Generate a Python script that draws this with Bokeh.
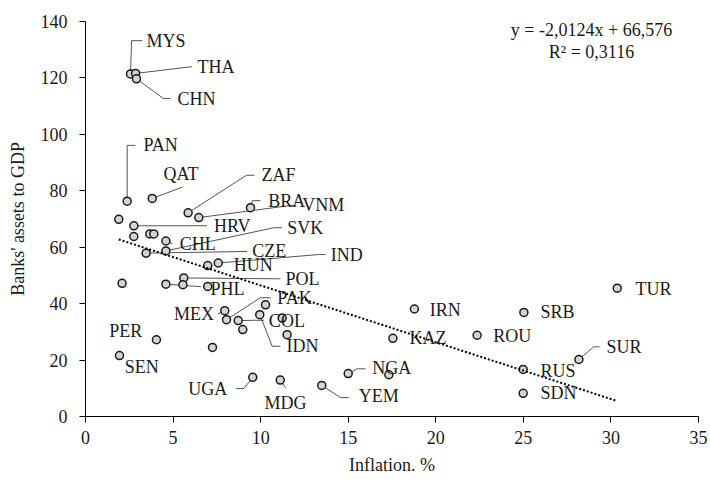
from bokeh.plotting import figure
from bokeh.models import Range1d, FixedTicker, ColumnDataSource, Label
from bokeh.core.properties import value
from bokeh.embed import file_html
from bokeh.resources import INLINE

# ---------------- data ----------------
countries = ["MYS", "THA", "CHN", "PAN", "QAT", "ZAF", "VNM", "BRA", "", "HRV",
             "", "", "", "CHL", "SVK", "CZE", "HUN", "IND", "POL", "",
             "PHL", "", "", "MEX", "PAK", "COL", "", "IDN", "", "",
             "", "PER", "SEN", "", "UGA", "MDG", "YEM", "NGA", "", "KAZ",
             "IRN", "ROU", "SRB", "RUS", "SDN", "SUR", "TUR"]
inflation = [2.57, 2.86, 2.91, 2.38, 3.81, 5.86, 6.47, 9.42, 1.90, 2.76,
             2.76, 3.67, 3.90, 4.59, 4.59, 3.46, 6.98, 7.58, 5.61, 2.09,
             4.59, 5.56, 6.98, 7.95, 8.05, 8.72, 8.98, 9.95, 10.28, 11.23,
             11.51, 4.05, 1.94, 7.25, 9.55, 11.12, 13.49, 15.0, 17.32, 17.55,
             18.78, 22.36, 25.03, 24.99, 24.99, 28.17, 30.36]
assets = [121.4, 121.6, 119.7, 76.3, 77.3, 72.2, 70.5, 74.0, 69.9, 67.6,
          63.8, 64.7, 64.7, 62.2, 58.7, 57.9, 53.5, 54.4, 49.1, 47.2,
          46.9, 46.7, 46.1, 37.5, 34.3, 34.0, 30.8, 36.1, 39.6, 34.9,
          29.0, 27.2, 21.6, 24.5, 13.9, 12.9, 11.0, 15.2, 14.8, 27.7,
          38.1, 28.8, 36.9, 16.7, 8.2, 20.2, 45.5]

x_ticks = [0, 5, 10, 15, 20, 25, 30, 35]
y_ticks = [0, 20, 40, 60, 80, 100, 120, 140]

trend_slope = -2.0124
trend_intercept = 66.576
r_squared = 0.3116
equation_text = "y = -2,0124x + 66,576"
r2_text = "R\u00b2 = 0,3116"

x_title = "Inflation. %"
y_title = "Banks' assets to GDP"

# ---------------- label layout (data coordinates) ----------------
# code: (text x, text y, align, leader waypoints after the point)
label_layout = {
    "MYS": (3.48, 133.2, "left", [(2.63, 133.2), (3.25, 133.2)]),
    "THA": (6.39, 124.0, "left", [(6.09, 124.0)]),
    "CHN": (5.25, 112.7, "left", [(4.45, 112.7), (4.85, 112.7)]),
    "PAN": (3.31, 96.1, "left", [(2.38, 96.1), (2.85, 96.1)]),
    "QAT": (4.45, 86.0, "left", [(5.54, 81.3)]),
    "ZAF": (10.05, 85.5, "left", [(9.19, 85.5), (9.65, 85.5)]),
    "BRA": (10.43, 76.5, "left", [(9.52, 76.5), (9.99, 76.5)]),
    "VNM": (12.37, 75.0, "left", [(11.6, 74.7), (12.0, 74.8)]),
    "HRV": (7.33, 67.6, "left", [(6.94, 67.6)]),
    "CHL": (5.38, 61.2, "left", [(4.97, 61.2)]),
    "SVK": (11.52, 66.9, "left", [(10.75, 66.9), (11.23, 66.9)]),
    "CZE": (9.52, 58.5, "left", [(9.23, 58.5)]),
    "IND": (14.0, 57.3, "left", [(13.3, 57.4), (13.7, 57.4)]),
    "HUN": (8.47, 53.8, "left", []),
    "POL": (11.42, 48.8, "left", [(11.13, 48.8)]),
    "PHL": (7.14, 45.3, "left", [(6.6, 46.0)]),
    "PAK": (10.95, 42.1, "left", [(9.99, 42.1), (10.56, 42.1)]),
    "MEX": (7.33, 36.4, "right", [(7.55, 36.4)]),
    "COL": (10.47, 34.0, "left", [(9.71, 34.1), (10.2, 34.1)]),
    "IDN": (11.48, 24.9, "left", [(10.66, 24.9), (11.13, 24.9)]),
    "PER": (3.24, 30.2, "right", []),
    "SEN": (2.24, 17.6, "left", []),
    "UGA": (8.09, 9.7, "right", [(9.04, 9.9), (8.6, 9.9)]),
    "MDG": (11.42, 4.7, "center", [(11.42, 10.2)]),
    "YEM": (15.6, 7.1, "left", [(14.56, 6.7), (15.03, 6.7)]),
    "NGA": (16.37, 17.3, "left", [(15.51, 16.9), (15.99, 16.9)]),
    "KAZ": (18.5, 27.7, "left", []),
    "IRN": (19.66, 37.9, "left", []),
    "ROU": (23.28, 28.7, "left", []),
    "SRB": (25.98, 36.9, "left", []),
    "RUS": (25.98, 16.3, "left", []),
    "SDN": (25.98, 8.2, "left", []),
    "SUR": (29.75, 24.7, "left", [(29.02, 24.7), (29.36, 24.7)]),
    "TUR": (31.4, 45.2, "left", []),
}

FONT = "Liberation Serif"
FS = "18px"
TEXT_COLOR = "#1a1a1a"

p = figure(width=708, height=477, x_range=Range1d(0, 35), y_range=Range1d(0, 140),
           output_backend="svg", toolbar_location=None,
           min_border_left=85, min_border_right=10, min_border_top=21, min_border_bottom=59)
p.outline_line_color = None
p.grid.visible = False
p.background_fill_color = "white"
p.border_fill_color = "white"

for ax, ticks in ((p.xaxis[0], x_ticks), (p.yaxis[0], y_ticks)):
    ax.ticker = FixedTicker(ticks=ticks)
    ax.minor_tick_line_color = None
    ax.major_tick_in = 0
    ax.major_tick_out = 6
    ax.axis_line_color = "black"
    ax.major_tick_line_color = "black"
    ax.major_label_text_font = FONT
    ax.major_label_text_font_size = FS
    ax.major_label_text_color = TEXT_COLOR
    ax.axis_label_text_font = FONT
    ax.axis_label_text_font_size = FS
    ax.axis_label_text_font_style = "normal"
    ax.axis_label_text_color = TEXT_COLOR

p.xaxis.axis_label = x_title
p.yaxis.axis_label = y_title
p.yaxis.major_label_standoff = 12
p.xaxis.major_label_standoff = 8
p.yaxis.axis_label_standoff = 10
p.xaxis.axis_label_standoff = 8

# leader lines
lx, ly = [], []
for code, (tx, ty, align, pts) in label_layout.items():
    if not pts:
        continue
    i = countries.index(code)
    xs = [inflation[i]] + [q[0] for q in pts]
    ys = [assets[i]] + [q[1] for q in pts]
    lx.append(xs)
    ly.append(ys)
p.multi_line(lx, ly, line_color="#404040", line_width=0.9)

# points
src = ColumnDataSource(dict(x=inflation, y=assets, c=countries))
p.scatter("x", "y", source=src, size=8, fill_color="#d4d4d4",
          line_color="#1a1a1a", line_width=1.5)

# trend line
x0, x1 = min(inflation), max(inflation)
p.line([x0, x1], [trend_slope * x0 + trend_intercept, trend_slope * x1 + trend_intercept],
       line_color="black", line_width=2, line_dash="2 2")

# country labels
for align in ("left", "right", "center"):
    tx, ty, tt = [], [], []
    for code, (x_, y_, a_, pts) in label_layout.items():
        if a_ == align:
            tx.append(x_); ty.append(y_); tt.append(code)
    if tx:
        p.text(tx, ty, text=tt, text_align=align, text_baseline="middle",
               text_font=value(FONT), text_font_size=FS, text_color=TEXT_COLOR)

# equation
p.add_layout(Label(x=28.89, y=137.0, text=equation_text, text_align="center",
                   text_baseline="middle", text_font=FONT, text_font_size=FS,
                   text_color=TEXT_COLOR))
p.add_layout(Label(x=28.89, y=129.1, text=r2_text, text_align="center",
                   text_baseline="middle", text_font=FONT, text_font_size=FS,
                   text_color=TEXT_COLOR))

open("out.html", "w").write(file_html(p, INLINE))
